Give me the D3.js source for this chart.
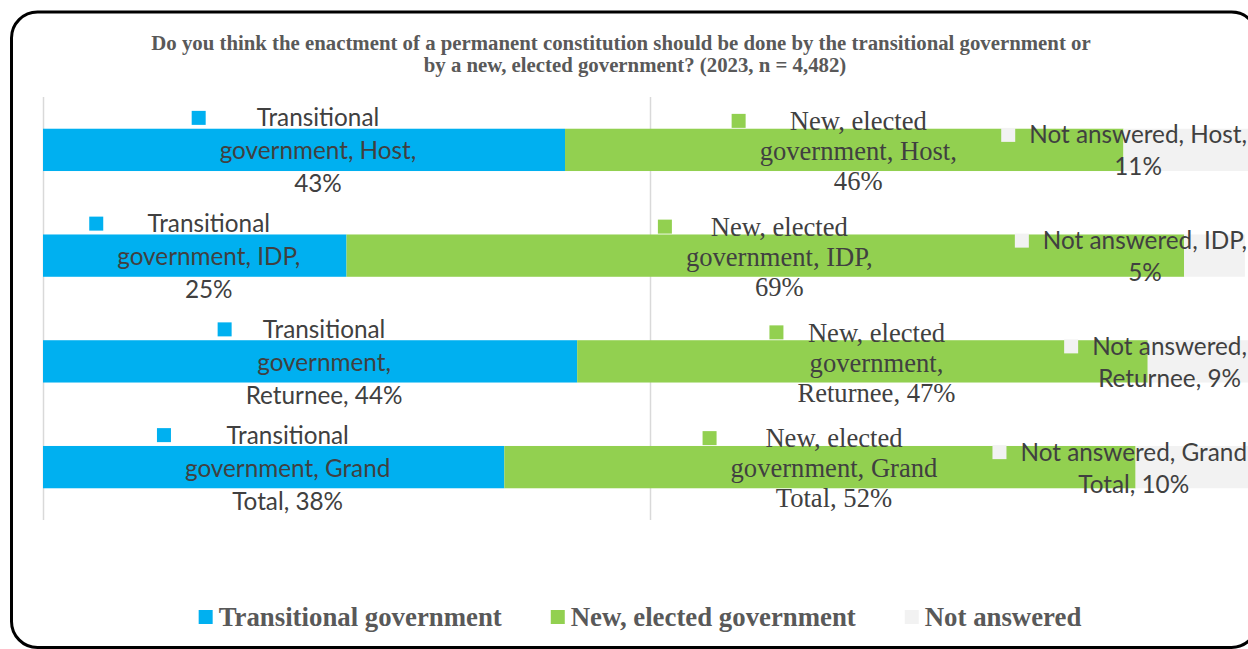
<!DOCTYPE html>
<html>
<head>
<meta charset="utf-8">
<script src="https://cdn.jsdelivr.net/npm/d3@7"></script>
<style>
  html, body { margin: 0; padding: 0; background: #ffffff; overflow: hidden; }
  svg { display: block; }
</style>
</head>
<body>
<svg id="chart" width="1248" height="649"></svg>
<script>
// Survey groups and answer shares (percent)
const categories = ["Host", "IDP", "Returnee", "Grand Total"];
const transitional = [43, 25, 44, 38];
const newElected = [46, 69, 47, 52];
const notAnswered = [11, 5, 9, 10];

const seriesNames = ["Transitional government", "New, elected government", "Not answered"];
const seriesColors = ["#00B0F0", "#92D050", "#F2F2F2"];
const titleLines = [
  "Do you think the enactment of a permanent constitution should be done by the transitional government or",
  "by a new, elected government? (2023, n = 4,482)"
];
const axisTicks = [0, 50, 100];

const rows = categories.map((c, i) => ({
  category: c,
  s0: transitional[i],
  s1: newElected[i],
  s2: notAnswered[i]
}));

const svg = d3.select("#chart");

// Outer frame
svg.append("rect")
  .attr("x", 11.5).attr("y", 12)
  .attr("width", 1246).attr("height", 635.5)
  .attr("rx", 26).attr("ry", 26)
  .attr("fill", "#ffffff")
  .attr("stroke", "#000000")
  .attr("stroke-width", 3);

// Title
const titleCenters = [621, 635];
svg.append("g").selectAll("text")
  .data(titleLines)
  .join("text")
  .attr("x", (d, i) => titleCenters[i])
  .attr("y", (d, i) => 50 + i * 22)
  .attr("text-anchor", "middle")
  .attr("font-family", "'Liberation Serif', 'Times New Roman', serif")
  .attr("font-weight", "bold")
  .attr("font-size", 20.8)
  .attr("fill", "#595959")
  .text(d => d);

// Scales
const x = d3.scaleLinear().domain([0, 100]).range([43, 1257]);
const y = d3.scaleBand().domain(categories).range([97, 520])
  .paddingInner(0.6).paddingOuter(0.3);

// Vertical gridlines (0 acts as the axis line)
svg.append("g").selectAll("line")
  .data(axisTicks.filter(t => t < 100))
  .join("line")
  .attr("x1", d => x(d) + 0.5).attr("x2", d => x(d) + 0.5)
  .attr("y1", 97).attr("y2", 520)
  .attr("stroke", "#D9D9D9")
  .attr("stroke-width", 1.5);

// Stacked bars
const keys = ["s0", "s1", "s2"];
const stacked = d3.stack().keys(keys)(rows);

const layers = svg.append("g").selectAll("g")
  .data(stacked)
  .join("g")
  .attr("fill", (d, i) => seriesColors[i]);

layers.selectAll("rect")
  .data(d => d)
  .join("rect")
  .attr("x", d => x(d[0]))
  .attr("width", d => x(d[1]) - x(d[0]))
  .attr("y", d => y(d.data.category))
  .attr("height", y.bandwidth());

// Data labels: "Series, Category, Value%" wrapped, with a legend key
const labelStyles = [
  { family: "Lato, 'Noto Sans', sans-serif", size: 24.3, lh: 33, maxW: 225 },
  { family: "'Liberation Serif', 'Times New Roman', serif", size: 26.6, lh: 30, maxW: 228 },
  { family: "Lato, 'Noto Sans', sans-serif", size: 24.3, lh: 32, maxW: 240 }
];
const seriesValues = [transitional, newElected, notAnswered];
const chartRight = 1247;
const keySize = 14, keyGap = 14;

const measurer = svg.append("text").attr("visibility", "hidden");
function measure(str, st) {
  measurer.attr("font-family", st.family).attr("font-size", st.size).text(str);
  return measurer.node().getComputedTextLength();
}
function wrap(str, st) {
  const words = str.split(" ");
  const lines = [];
  let cur = words[0];
  for (let k = 1; k < words.length; k++) {
    const test = cur + " " + words[k];
    if (measure(test, st) <= st.maxW) cur = test;
    else { lines.push(cur); cur = words[k]; }
  }
  lines.push(cur);
  return lines;
}

const labelG = svg.append("g");
stacked.forEach((layer, si) => {
  const st = labelStyles[si];
  layer.forEach((seg, ci) => {
    const cat = categories[ci];
    const v = seriesValues[si][ci];
    const lines = wrap(`${seriesNames[si]}, ${cat}, ${v}%`, st);
    const widths = lines.map(l => measure(l, st));
    const maxW = d3.max(widths);
    const blockW = keySize + keyGap + maxW;
    const cx = (x(seg[0]) + x(seg[1])) / 2;
    let left = cx - blockW / 2;
    if (left + blockW > chartRight) left = chartRight - blockW;
    const textCx = left + keySize + keyGap + maxW / 2;
    const yc = y(cat) + y.bandwidth() / 2 + 1;
    const firstY = yc - (lines.length - 1) / 2 * st.lh;

    labelG.append("rect")
      .attr("x", left)
      .attr("y", firstY - keySize / 2)
      .attr("width", keySize).attr("height", keySize)
      .attr("fill", seriesColors[si]);

    labelG.append("g").selectAll("text")
      .data(lines)
      .join("text")
      .attr("x", textCx)
      .attr("y", (d, k) => firstY + k * st.lh)
      .attr("dy", "0.35em")
      .attr("text-anchor", "middle")
      .attr("font-family", st.family)
      .attr("font-size", st.size)
      .attr("fill", "#404040")
      .text(d => d);
  });
});

// Legend
const legendStyle = { family: "'Liberation Serif', 'Times New Roman', serif", size: 26.8 };
const legendG = svg.append("g");
const itemWidths = seriesNames.map(n => {
  measurer.attr("font-family", legendStyle.family).attr("font-size", legendStyle.size)
    .attr("font-weight", "bold").text(n);
  return keySize + 6 + measurer.node().getComputedTextLength();
});
measurer.attr("font-weight", null);
const itemGap = 49;
const totalW = d3.sum(itemWidths) + itemGap * (seriesNames.length - 1);
let lx = 640 - totalW / 2;
const ly = 617;
seriesNames.forEach((n, i) => {
  legendG.append("rect")
    .attr("x", lx).attr("y", ly - keySize / 2)
    .attr("width", keySize).attr("height", keySize)
    .attr("fill", seriesColors[i]);
  legendG.append("text")
    .attr("x", lx + keySize + 6)
    .attr("y", ly)
    .attr("dy", "0.35em")
    .attr("font-family", legendStyle.family)
    .attr("font-weight", "bold")
    .attr("font-size", legendStyle.size)
    .attr("fill", "#595959")
    .text(n);
  lx += itemWidths[i] + itemGap;
});
measurer.remove();
</script>
</body>
</html>
